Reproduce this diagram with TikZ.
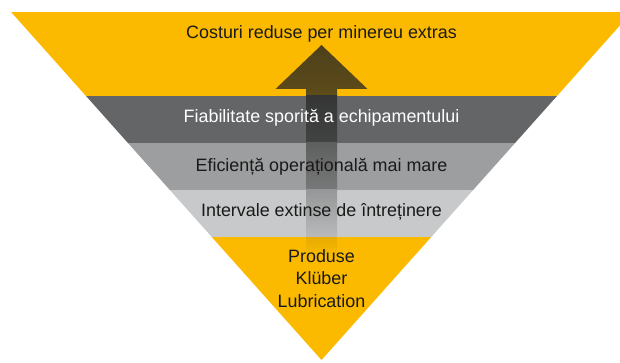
\documentclass[tikz,border=0pt]{standalone}
\usepackage{fontspec}
\setmainfont{Liberation Sans}
\definecolor{kyellow}{HTML}{FBBA00}
\definecolor{kdark}{HTML}{646567}
\definecolor{kmid}{HTML}{9D9E9F}
\definecolor{klight}{HTML}{C8C9CA}
\definecolor{karrow}{HTML}{222222}
\definecolor{ktext}{HTML}{1A1A1A}
\tikzset{
  lbl/.style={font=\fontsize{17.9}{22.5}\selectfont, text=ktext, anchor=base, inner sep=0pt, align=center},
}
\begin{document}
\begin{tikzpicture}[x=1pt,y=-1pt]
\useasboundingbox (0,0) rectangle (620,363);
% triangle outline coordinates
\coordinate (tl) at (11.1,12);
\coordinate (tr) at (631.9,12);
\coordinate (ap) at (321.5,360);
\begin{scope}
  \clip (0,0) rectangle (620,363);
  \clip (tl) -- (tr) -- (ap) -- cycle;
  \fill[kyellow] (0,12) rectangle (640,96);
  \fill[kdark]   (0,96) rectangle (640,143);
  \fill[kmid]    (0,143) rectangle (640,190);
  \fill[klight]  (0,190) rectangle (640,237);
  \fill[kyellow] (0,237) rectangle (640,362);
\end{scope}
% arrow (colours pre-blended with the bands beneath)
\shade[top color=karrow!80!kyellow, bottom color=karrow!74!kyellow]
  (321.5,45) -- (367.5,89) -- (275.5,89) -- cycle;
\shade[top color=karrow!74!kyellow, bottom color=karrow!71!kyellow] (306,88.6) rectangle (337,96.2);
\shade[top color=karrow!71!kdark, bottom color=karrow!51!kdark] (306,96) rectangle (337,143.2);
\shade[top color=karrow!51!kmid, bottom color=karrow!30!kmid] (306,143) rectangle (337,190.2);
\shade[top color=karrow!30!klight, bottom color=karrow!9!klight] (306,190) rectangle (337,237.2);
\shade[top color=karrow!9!kyellow, bottom color=kyellow] (306,237) rectangle (337,257);
% labels
\node[lbl] (t1) at (321.5,39) {Costuri reduse per minereu extras};
\node[lbl, text=white] (t2) at (321.5,123) {Fiabilitate sporită a echipamentului};
\node[lbl] (t3) at (321.5,172) {Eficiență operațională mai mare};
\node[lbl] (t4) at (321.5,217) {Intervale extinse de întreținere};
\node[lbl] (t5) at (321.5,307) {Produse\\Klüber\\Lubrication};
\end{tikzpicture}
\end{document}
